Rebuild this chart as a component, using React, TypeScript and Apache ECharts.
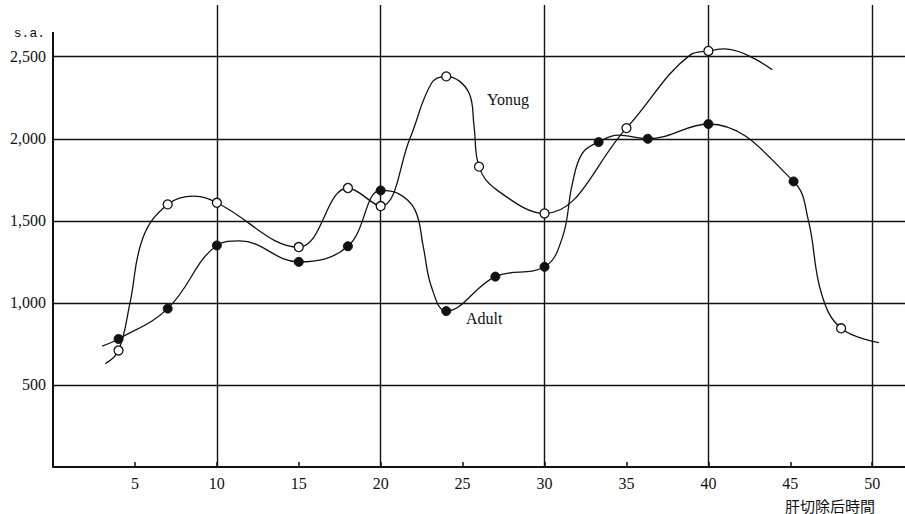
import React, { useEffect, useRef } from "react";
import * as echarts from "echarts";

// Hours after hepatectomy (x) and s.a. values (y).
// marker: "open" | "filled" | "none" (no symbol)
const youngX = [3.2, 4, 4.7, 5.5, 7, 8.6, 10, 15, 18, 20, 21.8, 23.1, 24, 25.4, 25.7, 26, 27.1, 30, 35, 38.9, 40, 41, 43.9];
const youngY = [630, 710, 1000, 1400, 1600, 1650, 1610, 1340, 1700, 1590, 2006, 2338, 2380, 2277, 2073, 1830, 1687, 1545, 2065, 2511, 2535, 2548, 2420];
const youngMarker = ["none", "open", "none", "none", "open", "none", "open", "open", "open", "open", "none", "none", "open", "none", "none", "open", "none", "open", "open", "none", "open", "none", "none"];

const adultX = [3, 4, 7, 10, 11.4, 15, 18, 20, 21.05, 22.1, 22.6, 23.1, 24, 27, 30, 31.1, 31.7, 32.3, 33.3, 34.5, 36.3, 40, 45.2, 46.1, 46.9, 48.1, 50.4];
const adultY = [737, 780, 965, 1350, 1378, 1250, 1345, 1685, 1667, 1565, 1341, 1097, 950, 1160, 1220, 1402, 1728, 1911, 1980, 2022, 2000, 2090, 1740, 1504, 1057, 845, 758];
const adultMarker = ["none", "filled", "filled", "filled", "none", "filled", "filled", "filled", "none", "none", "none", "none", "filled", "filled", "filled", "none", "none", "none", "filled", "none", "filled", "filled", "filled", "none", "none", "open", "none"];

const xTicks = [5, 10, 15, 20, 25, 30, 35, 40, 45, 50];
const xGridLines = [10, 20, 30, 40, 50];
const yTicks = [500, 1000, 1500, 2000, 2500];
const yAxisTop = 2650;

const X_MIN = 0;
const X_MAX = 52;
const Y_MIN = 0;
const Y_MAX = 2815;

const INK = "#111";
const SERIF = "'Liberation Serif', 'DejaVu Serif', serif";

function buildData(xs: number[], ys: number[], markers: string[]) {
  return xs.map((x, i) => {
    const m = markers[i];
    const item: any = { value: [x, ys[i]], symbol: m === "none" ? "none" : "circle" };
    if (m === "open") item.itemStyle = { color: "#fff", borderColor: INK, borderWidth: 1.3 };
    if (m === "filled") item.itemStyle = { color: INK, borderColor: INK, borderWidth: 1 };
    return item;
  });
}

export default function App() {
  const ref = useRef<HTMLDivElement>(null);

  useEffect(() => {
    if (!ref.current) return;
    const chart = echarts.init(ref.current, undefined, { renderer: "svg" });

    const option: any = {
      animation: false,
      backgroundColor: "#fff",
      grid: { left: 53, right: 0, top: 5, bottom: 47, containLabel: false },
      xAxis: {
        type: "value",
        min: X_MIN,
        max: X_MAX,
        axisLine: { show: true, onZero: false, lineStyle: { color: INK, width: 2 } },
        axisTick: { show: true, inside: true, length: 5, customValues: xTicks, lineStyle: { color: INK, width: 1.5 } },
        axisLabel: {
          customValues: xTicks,
          color: INK,
          fontFamily: SERIF,
          fontSize: 16,
          margin: 8,
        },
        splitLine: { show: false },
      },
      yAxis: {
        type: "value",
        min: Y_MIN,
        max: Y_MAX,
        axisLine: { show: false },
        axisTick: { show: false },
        axisLabel: {
          customValues: yTicks,
          color: INK,
          fontFamily: SERIF,
          fontSize: 16,
          margin: 7,
          formatter: (v: number) => v.toLocaleString("en-US"),
        },
        splitLine: { show: false },
      },
      series: [
        {
          type: "line",
          data: [],
          silent: true,
          markLine: {
            silent: true,
            symbol: "none",
            label: { show: false },
            lineStyle: { type: "solid", color: INK, width: 1.4 },
            data: [
              ...xGridLines.map((v) => ({ xAxis: v })),
              ...yTicks.map((v) => ({ yAxis: v })),
              [
                { coord: [0, 0], lineStyle: { width: 2 } },
                { coord: [0, yAxisTop] },
              ],
            ],
          },
        },
        {
          name: "Yonug",
          type: "line",
          smooth: 0.4,
          data: buildData(youngX, youngY, youngMarker),
          symbolSize: 9,
          lineStyle: { color: INK, width: 1.3 },
          z: 5,
        },
        {
          name: "Adult",
          type: "line",
          smooth: 0.4,
          data: buildData(adultX, adultY, adultMarker),
          symbolSize: 9,
          lineStyle: { color: INK, width: 1.3 },
          z: 6,
        },
      ],
      graphic: [
        {
          type: "text",
          x: 45,
          y: 33,
          style: { text: "s.a.", fontSize: 13, fontFamily: "'Liberation Mono', monospace", fill: INK, align: "right", verticalAlign: "middle" },
        },
        {
          type: "text",
          x: 487,
          y: 99,
          style: { text: "Yonug", fontSize: 16, fontFamily: SERIF, fill: INK, align: "left", verticalAlign: "middle" },
        },
        {
          type: "text",
          x: 466,
          y: 318,
          style: { text: "Adult", fontSize: 16, fontFamily: SERIF, fill: INK, align: "left", verticalAlign: "middle" },
        },
        {
          type: "text",
          x: 875,
          y: 505,
          style: { text: "肝切除后時間", fontSize: 15, fontFamily: "'Noto Sans CJK JP', sans-serif", fill: INK, align: "right", verticalAlign: "middle" },
        },
      ],
    };

    chart.setOption(option);
    return () => chart.dispose();
  }, []);

  return (
    <div
      ref={ref}
      style={{ position: "fixed", left: 0, top: 0, width: 905, height: 514, background: "#fff" }}
    />
  );
}
